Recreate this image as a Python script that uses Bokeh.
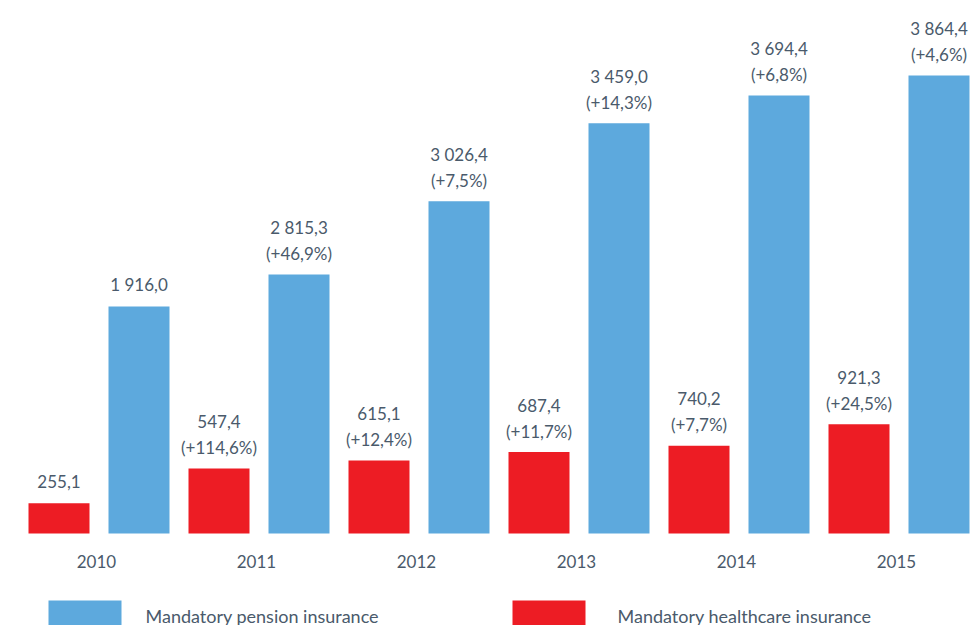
from bokeh.plotting import figure
from bokeh.models import ColumnDataSource
from bokeh.core.properties import value
from bokeh.embed import file_html
from bokeh.resources import INLINE

years = ["2010", "2011", "2012", "2013", "2014", "2015"]
# bar heights as drawn in the picture
pension_bar = [1916.0, 2185.0, 2804.0, 3462.0, 3696.0, 3864.4]
# values printed on the labels
pension_label = [1916.0, 2815.3, 3026.4, 3459.0, 3694.4, 3864.4]
pension_growth = [None, 46.9, 7.5, 14.3, 6.8, 4.6]
health = [255.1, 547.4, 615.1, 687.4, 740.2, 921.3]
health_growth = [None, 114.6, 12.4, 11.7, 7.7, 24.5]
legend_labels = ["Mandatory pension insurance", "Mandatory healthcare insurance"]

BLUE = "#5DA9DD"
RED = "#ED1C24"
TXT = "#4a5a6b"
FONT = "Lato"

W, H = 980, 625
BASE = 533              # baseline px from top
PX_X = 160.0            # px per year group
X0 = -98.5 / PX_X
X1 = X0 + W / PX_X
PX_Y = 0.11852          # px per unit
Y1 = BASE / PX_Y
Y0 = -(H - BASE) / PX_Y


def fmt_num(v):
    return f"{v:,.1f}".replace(",", " ").replace(".", ",")


def fmt_pct(g):
    return "" if g is None else "(+" + f"{g:.1f}".replace(".", ",") + "%)"


idx = list(range(len(years)))
p = figure(width=W, height=H, x_range=(X0, X1), y_range=(Y0, Y1),
           output_backend="svg", toolbar_location=None, min_border=0)
p.axis.visible = False
p.grid.visible = False
p.outline_line_color = None
p.background_fill_color = "white"
p.border_fill_color = "white"

bw = 61 / PX_X
off = 40 / PX_X


def series(bars, labels, growth, shift, color):
    xs = [i + shift for i in idx]
    src = ColumnDataSource(dict(
        x=xs, top=bars,
        num=[fmt_num(v) for v in labels],
        pct=[fmt_pct(g) for g in growth],
        num_off=[-22 if g is None else -47 for g in growth],
    ))
    p.vbar(x="x", top="top", bottom=0, width=bw, source=src,
           fill_color=color, line_color=None)
    p.text(x="x", y="top", text="num", y_offset="num_off", source=src,
           text_align="center", text_baseline="middle",
           text_font=value(FONT), text_font_size="17px", text_color=TXT)
    p.text(x="x", y="top", text="pct", y_offset=-21, source=src,
           text_align="center", text_baseline="middle",
           text_font=value(FONT), text_font_size="17px", text_color=TXT)


series(health, health, health_growth, -off, RED)
series(pension_bar, pension_label, pension_growth, off, BLUE)

ysrc = ColumnDataSource(dict(x=[i - 0.016 for i in idx], y=[0] * len(idx), t=years))
p.text(x="x", y="y", text="t", y_offset=28, source=ysrc,
       text_align="center", text_baseline="middle",
       text_font=value(FONT), text_font_size="17px", text_color=TXT)


# legend (manual, cut off at bottom edge like the reference)
def px2x(px):
    return X0 + px / PX_X


def py2y(py):
    return (BASE - py) / PX_Y


leg_swatch_px = [48, 512]
leg_text_px = [145, 617]
for sx, tx, col, lab in zip(leg_swatch_px, leg_text_px, [BLUE, RED], legend_labels):
    p.quad(left=px2x(sx), right=px2x(sx + 73), top=py2y(600), bottom=Y0 - 200,
           fill_color=col, line_color=None)
    p.text(x=[px2x(tx)], y=[py2y(615)], text=[lab], text_align="left",
           text_baseline="middle", text_font=value(FONT),
           text_font_size="18px", text_color=TXT)

open("out.html", "w").write(file_html(p, INLINE))
